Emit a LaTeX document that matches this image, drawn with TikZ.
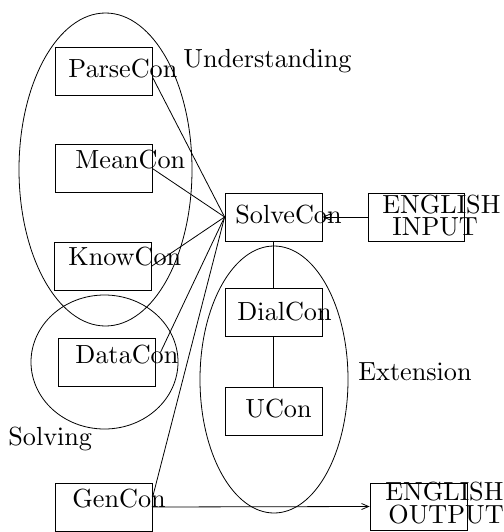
\documentclass[tikz,border=0pt]{standalone}
\usetikzlibrary{shapes.geometric,arrows.meta}
\font\bigcm=cmr10 at 26.2pt
\begin{document}
\begin{tikzpicture}[x=1pt,y=-1pt,line width=0.8pt,
  box/.style={draw,rectangle,inner sep=0pt,minimum width=97pt,minimum height=48pt},
  oval/.style={draw,ellipse,inner sep=0pt},
  lbl/.style={anchor=base west,inner sep=0pt,font=\bigcm},
  arr/.style={-{Straight Barb[length=7pt,width=6pt,line width=0.8pt]}}]
\useasboundingbox (0,0) rectangle (503,532);
% ellipses
\node[oval,minimum width=173pt,minimum height=313pt] (und) at (105.5,169.5) {};
\node[oval,minimum width=147pt,minimum height=134pt] (solv) at (104.5,362) {};
\node[oval,minimum width=148pt,minimum height=267pt] (ext) at (274,379.5) {};
% boxes
\node[box] (parse) at (103.5,71.5) {};
\node[box] (mean) at (103.5,168.5) {};
\node[box] (know) at (103,266) {};
\node[box] (data) at (106.5,362.5) {};
\node[box] (gen) at (103.5,507) {};
\node[box] (solve) at (273.5,217) {};
\node[box] (dial) at (273.5,312) {};
\node[box] (ucon) at (273.5,411) {};
\node[box,minimum width=96pt] (ein) at (416,217) {};
\node[box,minimum width=97pt,minimum height=47pt] (eout) at (418.5,506.5) {};
% texts
\node[lbl] (tparse) at (68,78) {ParseCon};
\node[lbl] (tmean) at (75,168) {MeanCon};
\node[lbl] (tknow) at (68,265) {KnowCon};
\node[lbl] (tdata) at (75,363) {DataCon};
\node[lbl] (tgen) at (72,507) {GenCon};
\node[lbl] (tsolve) at (235,223) {SolveCon};
\node[lbl] (tdial) at (237,320) {DialCon};
\node[lbl] (tucon) at (245,417) {UCon};
\node[lbl] (tund) at (183,68) {Understanding};
\node[lbl] (tsolv) at (8,445) {Solving};
\node[lbl] (text) at (358,380) {Extension};
\node[lbl] (tein1) at (382,213) {ENGLISH};
\node[lbl] (tein2) at (392,235) {INPUT};
\node[lbl] (teout1) at (385,500) {ENGLISH};
\node[lbl] (teout2) at (388,523) {OUTPUT};
% connectors
\draw ([yshift=-5.5pt]parse.east) -- (solve.west);
\draw (mean.east) -- (solve.west);
\draw (know.east) -- (solve.west);
\draw ([shift={(5pt,10pt)}]data.east) -- (solve.west);
\draw ([yshift=9pt]gen.east) -- (solve.west);
\draw (solve.south) -- (dial.north);
\draw (dial.south) -- (ucon.north);
\draw[arr] (ein.west) -- (solve.east);
\draw[arr] (gen.east) -- (eout.west);
\end{tikzpicture}
\end{document}
